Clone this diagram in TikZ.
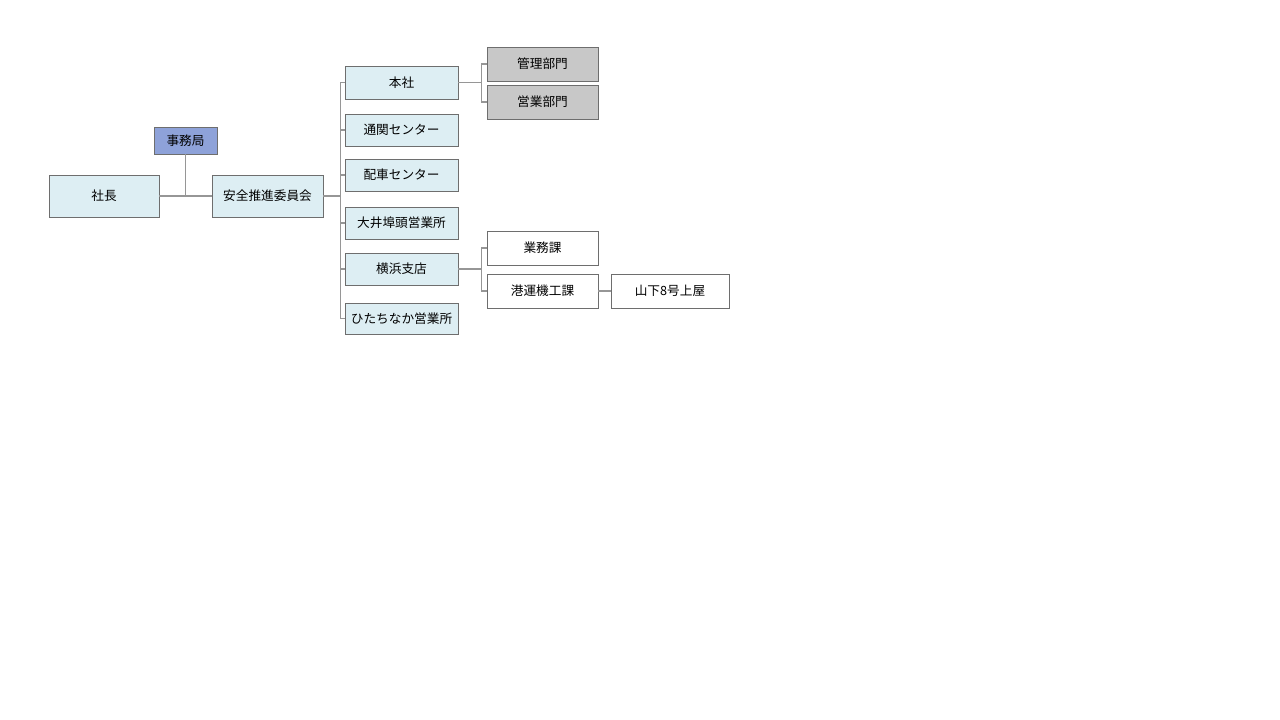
\documentclass[tikz,border=0pt]{standalone}
\usepackage{fontspec}
\setmainfont{Noto Sans CJK JP}
\usetikzlibrary{positioning}
\definecolor{boxblue}{RGB}{221,238,243}
\definecolor{deskblue}{RGB}{142,162,217}
\definecolor{deptgray}{RGB}{200,200,200}
\definecolor{edgegray}{RGB}{110,110,110}
\definecolor{linegray}{RGB}{150,150,150}

\begin{document}
\begin{tikzpicture}[x=0.75pt, y=-0.75pt, font=\fontsize{9.5}{11}\selectfont,
    unit/.style={draw=edgegray, line width=0.6pt, fill=boxblue, minimum width=113*0.75pt, minimum height=32*0.75pt, inner sep=0pt},
    dept/.style={unit, fill=deptgray, minimum width=111*0.75pt, minimum height=34*0.75pt},
    sect/.style={unit, fill=white, minimum width=111*0.75pt, minimum height=34*0.75pt},
    conn/.style={draw=linegray, line width=0.9pt}]
    \useasboundingbox (0,0) rectangle (1280,720);

    % top level
    \node[unit, minimum width=110*0.75pt, minimum height=42*0.75pt] (shacho) at (104,196) {社長};
    \node[unit, minimum width=111*0.75pt, minimum height=42*0.75pt] (anzen) at (267.5,196) {安全推進委員会};
    \node[unit, fill=deskblue, minimum width=63*0.75pt, minimum height=27*0.75pt] (jimu) at (185.5,140.5) {事務局};

    % branches
    \node[unit, minimum height=33*0.75pt] (honsha) at (401.5,82.5) {本社};
    \node[unit] (tsukan) at (401.5,130) {通関センター};
    \node[unit] (haisha) at (401.5,175) {配車センター};
    \node[unit] (oi) at (401.5,223) {大井埠頭営業所};
    \node[unit] (yokohama) at (401.5,269) {横浜支店};
    \node[unit, minimum height=31*0.75pt] (hitachi) at (401.5,318.5) {ひたちなか営業所};

    % departments and sections
    \node[dept] (kanri) at (542.5,64) {管理部門};
    \node[dept] (eigyo) at (542.5,102) {営業部門};
    \node[sect] (gyomu) at (542.5,248) {業務課};
    \node[sect] (koun) at (542.5,291) {港運機工課};
    \node[sect, minimum width=118*0.75pt] (yamashita) at (670,291) {山下8号上屋};

    \draw[conn] (shacho) -- (anzen);
    \draw[conn] (jimu) -- (jimu |- anzen);
    \foreach \b in {honsha, tsukan, haisha, oi, yokohama, hitachi}
        \draw[conn] (anzen.east) -- ++(17,0) |- (\b.west);
    \foreach \d in {kanri, eigyo}
        \draw[conn] (honsha.east) -- ++(23,0) |- (\d.west);
    \foreach \s in {gyomu, koun}
        \draw[conn] (yokohama.east) -- ++(23,0) |- (\s.west);
    \draw[conn] (koun) -- (yamashita);
\end{tikzpicture}
\end{document}
